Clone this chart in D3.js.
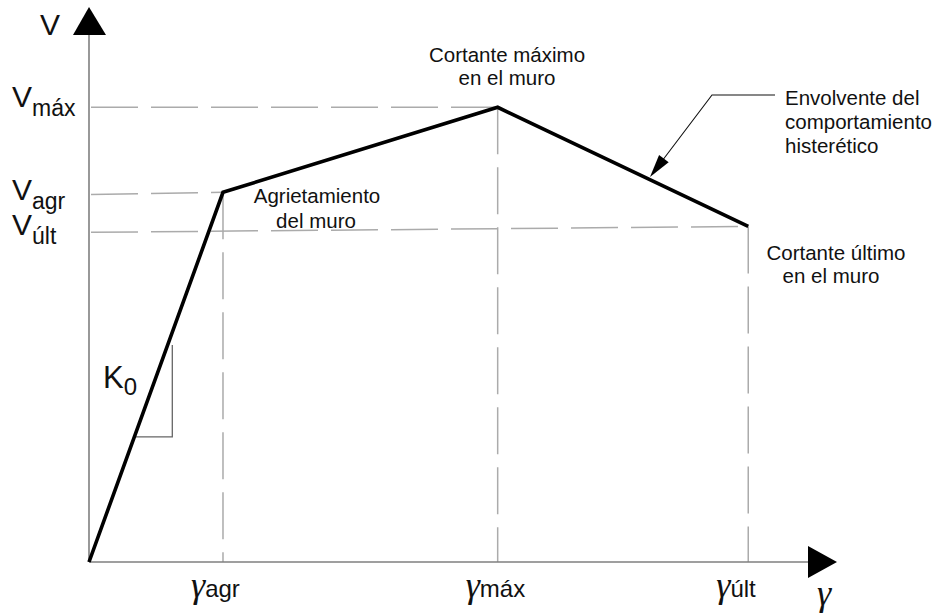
<!DOCTYPE html>
<html><head><meta charset="utf-8">
<script src="https://cdn.jsdelivr.net/npm/d3@7"></script>
<style>
body{margin:0;background:#fff;}
svg{display:block;}
text{font-family:"Liberation Sans",Arial,sans-serif;fill:#111;}
</style></head>
<body>
<svg id="c" width="938" height="614"></svg>
<script>
// ---- data ----
const pointNames = ["origen", "agr", "máx", "últ"];
const gammaValues = [0, 1.0, 3.05, 4.92];
const shearValues = [0, 0.813, 1.0, 0.738];
const vTickLabels = ["máx", "agr", "últ"];
const vTickValues = [1.0, 0.808, 0.725];
const gTickLabels = ["agr", "máx", "últ"];
const gTickValues = [1.0, 3.05, 4.92];
const annotMax = ["Cortante máximo", "en el muro"];
const annotAgr = ["Agrietamiento", "del muro"];
const annotUlt = ["Cortante último", "en el muro"];
const annotEnv = ["Envolvente del", "comportamiento", "histerético"];

const svg = d3.select("#c");
const x = d3.scaleLinear().domain([0, 5.366]).range([89, 808]);
const y = d3.scaleLinear().domain([0, 1.159]).range([562, 35]);

const pts = gammaValues.map((g, i) => ({g, v: shearValues[i], name: pointNames[i]}));
const serif = '"Liberation Serif","Times New Roman",serif';

// guide dashed lines
const dash = "47,13";
const guides = svg.append("g").attr("stroke", "#ababab").attr("stroke-width", 1.5).attr("fill", "none").attr("stroke-dasharray", dash);
vTickValues.forEach((tv, i) => {
  const p = pts[i === 0 ? 2 : i === 1 ? 1 : 3];
  guides.append("line").attr("x1", x(0) + 2).attr("y1", y(tv)).attr("x2", x(p.g)).attr("y2", y(p.v));
});
gTickValues.forEach((tg, i) => {
  const p = pts[i + 1];
  guides.append("line").attr("x1", x(p.g)).attr("y1", y(p.v)).attr("x2", x(tg)).attr("y2", y(0));
});

// axes
const ax = svg.append("g").attr("stroke", "#7f7f7f").attr("stroke-width", 1.6);
ax.append("line").attr("x1", x(0)).attr("y1", y(0)).attr("x2", x(0)).attr("y2", y.range()[1]);
ax.append("line").attr("x1", x(0)).attr("y1", y(0)).attr("x2", x.range()[1]).attr("y2", y(0));
const yTop = y.range()[1], xEnd = x.range()[1];
svg.append("path").attr("fill", "#000")
  .attr("d", `M${x(0)-16},${yTop} L${x(0)+17},${yTop} L${x(0)},${yTop-28} Z`);
svg.append("path").attr("fill", "#000")
  .attr("d", `M${xEnd},${y(0)-16} L${xEnd},${y(0)+16} L${xEnd+29},${y(0)} Z`);

// slope triangle (K0)
const tri = svg.append("g").attr("stroke", "#666").attr("stroke-width", 1.3).attr("fill", "none");
const k = shearValues[1] / gammaValues[1];
const vTop = 0.477, vBot = 0.275;
const xv = vTop / k + 0.035;
tri.append("polyline").attr("points", `${x(vBot / k)},${y(vBot)} ${x(xv)},${y(vBot)} ${x(xv)},${y(vTop)}`);

// envelope
svg.append("path").datum(pts)
  .attr("d", d3.line().x(d => x(d.g)).y(d => y(d.v)))
  .attr("fill", "none").attr("stroke", "#000").attr("stroke-width", 3.6).attr("stroke-linejoin", "miter");

// axis titles
svg.append("text").attr("x", 40).attr("y", 35).attr("font-size", 30).text("V");
svg.append("text").attr("x", 817).attr("y", 605).attr("font-size", 36)
  .style("font-family", serif).style("font-style", "italic").text("γ");

// V tick labels
vTickValues.forEach((tv, i) => {
  const t = svg.append("text").attr("x", 12).attr("y", y(tv) + [0, 5, 3][i]).attr("font-size", 30);
  t.append("tspan").text("V");
  t.append("tspan").attr("font-size", 23).attr("dy", 9).text(vTickLabels[i]);
});

// gamma tick labels
gTickValues.forEach((tg, i) => {
  const t = svg.append("text").attr("x", x(tg) - 32).attr("y", 597).attr("font-size", 24);
  t.append("tspan").attr("font-size", 36)
    .style("font-family", serif).style("font-style", "italic").text("γ");
  t.append("tspan").attr("dx", 0).text(gTickLabels[i]);
});

// K0
const kt = svg.append("text").attr("x", 103).attr("y", 388).attr("font-size", 31);
kt.append("tspan").text("K");
kt.append("tspan").attr("font-size", 24).attr("dy", 7).text("0");

// annotations
function block(lines, xs, ys, anchor, lh) {
  const g = svg.append("g").attr("font-size", 20.5);
  lines.forEach((l, i) => {
    g.append("text").attr("x", xs[i]).attr("y", ys + i * lh).attr("text-anchor", anchor).text(l);
  });
}
block(annotMax, [507, 507], 62, "middle", 23);
block(annotAgr, [317, 316], 203, "middle", 25);
block(annotUlt, [836, 831], 260, "middle", 23);
block(annotEnv, [785, 785, 785], 105, "start", 24);

// leader arrow
const tip = [650, 177];
svg.append("polyline").attr("points", `775,95 712,95 ${tip[0]+9},${tip[1]-12}`)
  .attr("fill", "none").attr("stroke", "#111").attr("stroke-width", 1.1);
{
  const dx = 712 - tip[0], dy = 95 - tip[1], L = Math.hypot(dx, dy);
  const ux = dx / L, uy = dy / L, len = 23, w = 6;
  const bx = tip[0] + ux * len, by = tip[1] + uy * len;
  svg.append("path").attr("fill", "#000")
    .attr("d", `M${tip[0]},${tip[1]} L${bx - uy * w},${by + ux * w} L${bx + uy * w},${by - ux * w} Z`);
}
</script>
</body></html>
